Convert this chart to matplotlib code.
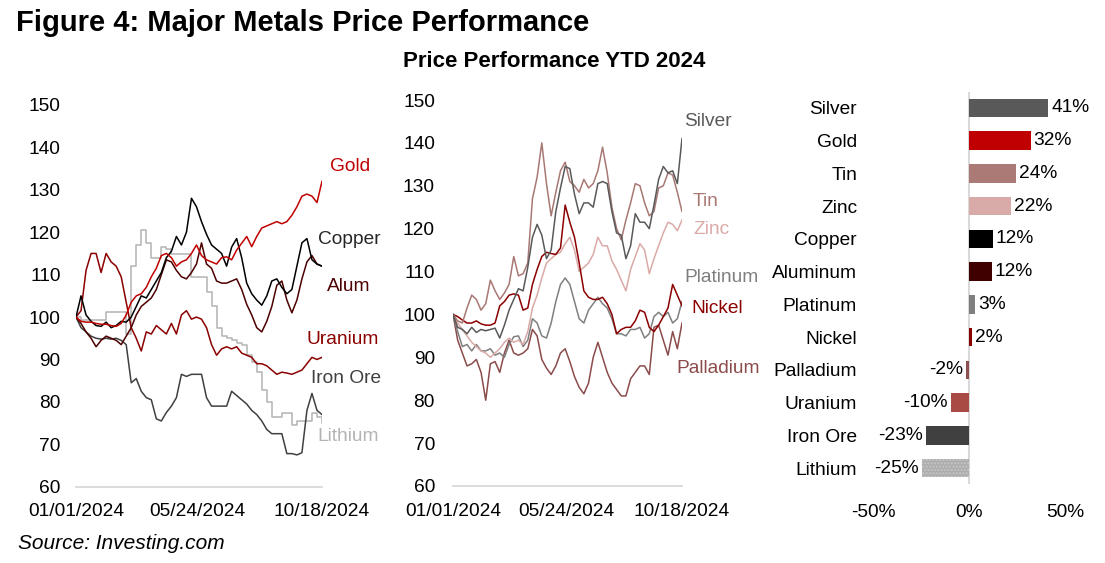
import matplotlib.pyplot as plt
import matplotlib.dates as mdates
import matplotlib.ticker as mticker
import pandas as pd

plt.rc('font', family='Liberation Sans')
plt.rcParams['axes.unicode_minus'] = False

# price index, 01/01/2024 = 100 (50 points Jan 1 -> Oct 18)
dates = pd.date_range('2024-01-01', '2024-10-18', periods=50)

gold = [100, 99.0, 98.8, 98.8, 98.5, 98.3, 98.3, 98.0, 97.8, 98.5,
        100.5, 103.5, 105.0, 105.5, 107.0, 109.5, 111.5, 114.5, 115.0, 114.0,
        112.0, 113.0, 113.5, 115.0, 117.0, 114.5, 113.5, 113.0, 112.5, 114.0,
        114.2, 113.5, 115.8, 117.4, 119.0, 116.6, 119.0, 121.0, 121.5, 122.0,
        122.5, 122.0, 122.5, 124.0, 126.0, 128.5, 129.0, 128.5, 127.0, 132.0]
copper = [100, 105.0, 100.5, 99.0, 98.0, 97.8, 98.8, 97.5, 98.0, 99.0,
          98.8, 100.0, 102.5, 105.0, 104.5, 106.5, 108.5, 110.5, 114.0, 115.5,
          119.0, 117.0, 120.0, 128.0, 126.0, 122.5, 119.5, 117.0, 116.0, 115.0,
          112.0, 116.5, 118.5, 114.0, 108.0, 105.5, 104.0, 102.8, 105.0, 108.5,
          109.0, 107.0, 105.5, 106.5, 112.0, 117.5, 118.5, 113.5, 112.5, 112.0]
alum = [100, 98.5, 96.5, 95.0, 93.0, 94.5, 95.5, 95.0, 94.5, 93.5,
        95.5, 97.5, 100.5, 102.5, 103.5, 104.5, 106.5, 110.0, 113.5, 113.0,
        111.0, 109.5, 109.0, 110.5, 112.5, 117.5, 112.5, 111.5, 108.5, 108.0,
        108.0, 108.5, 109.0, 106.5, 103.0, 100.5, 97.5, 96.5, 99.0, 102.5,
        107.5, 108.5, 104.0, 101.0, 104.0, 109.0, 113.0, 114.5, 112.5, 112.0]
uranium = [100, 101.5, 111.0, 115.0, 115.0, 110.5, 115.0, 113.0, 112.0, 109.5,
           103.5, 97.5, 95.0, 92.0, 96.5, 96.0, 98.0, 97.0, 96.0, 98.5,
           96.0, 100.5, 101.5, 99.5, 100.0, 99.5, 97.5, 93.5, 91.0, 92.5,
           93.0, 92.5, 93.0, 91.5, 91.0, 90.5, 89.0, 89.0, 88.5, 87.5,
           86.5, 87.0, 86.8, 86.5, 87.0, 87.5, 89.0, 90.5, 90.0, 90.5]
iron_ore = [100, 97.5, 96.5, 95.5, 95.0, 94.8, 95.0, 94.8, 95.0, 94.5,
            93.5, 84.5, 85.5, 82.5, 81.0, 80.5, 76.0, 75.5, 77.5, 79.0,
            81.0, 86.5, 86.0, 86.5, 86.5, 86.5, 81.0, 79.0, 79.0, 79.0,
            79.0, 82.5, 81.5, 80.5, 79.5, 78.0, 77.0, 75.5, 73.5, 72.5,
            72.5, 72.5, 67.8, 67.8, 67.5, 68.0, 78.0, 82.0, 78.0, 77.0]
lithium = [100, 99.3, 99.3, 99.3, 99.3, 99.3, 101.2, 101.2, 101.2, 101.2,
           96.0, 112.0, 117.0, 120.5, 117.5, 114.0, 114.0, 116.5, 116.0, 114.8,
           114.8, 114.8, 114.8, 109.5, 109.5, 109.5, 106.0, 102.5, 97.5, 95.5,
           95.0, 94.5, 93.8, 93.5, 91.0, 89.5, 87.0, 82.8, 80.0, 76.5,
           76.5, 77.3, 77.3, 74.5, 75.5, 75.5, 75.5, 77.3, 76.5, 75.0]

silver = [100, 97.0, 96.5, 95.5, 97.0, 95.8, 96.5, 96.2, 96.5, 96.8,
          94.5, 97.5, 101.0, 103.5, 106.0, 105.5, 111.0, 118.0, 121.0, 118.5,
          113.0, 115.0, 124.0, 129.5, 134.5, 134.0, 128.0, 123.5, 126.0, 126.0,
          125.0, 130.5, 131.0, 130.5, 124.0, 119.0, 118.5, 113.0, 116.0, 123.5,
          121.5, 121.5, 120.0, 125.5, 131.5, 134.5, 133.0, 133.5, 130.5, 141.0]
tin = [100, 98.5, 98.0, 101.5, 104.5, 103.5, 101.0, 102.5, 108.0, 105.5,
       103.5, 105.0, 107.0, 113.5, 109.0, 109.5, 112.0, 127.0, 132.0, 140.0,
       130.5, 123.0, 128.5, 133.5, 135.5, 131.0, 130.0, 128.5, 131.5, 129.5,
       130.5, 133.5, 139.0, 133.0, 125.0, 120.0, 117.4, 122.0, 126.0, 130.5,
       130.0, 126.0, 123.0, 124.0, 129.5, 130.0, 133.0, 132.5, 128.5, 124.0]
zinc = [100, 98.0, 96.5, 95.0, 93.5, 92.5, 91.5, 91.0, 90.0, 91.0,
        92.0, 93.5, 94.5, 93.5, 94.0, 93.0, 96.0, 101.5, 104.5, 108.5,
        112.0, 113.0, 114.0, 114.5, 116.5, 118.0, 115.0, 110.0, 111.0, 112.0,
        114.0, 118.0, 116.0, 116.0, 112.5, 110.5, 108.0, 105.5, 110.5, 113.5,
        116.5, 115.0, 109.5, 113.0, 116.0, 119.0, 121.5, 121.0, 119.5, 122.0]
platinum = [100, 96.0, 92.5, 93.0, 91.5, 93.0, 91.5, 91.5, 92.0, 90.5,
            91.0, 90.0, 93.0, 94.8, 95.0, 92.5, 94.0, 99.0, 98.0, 95.0,
            94.5, 98.0, 103.0, 107.0, 108.5, 107.0, 103.0, 99.0, 98.0, 101.0,
            102.5, 104.0, 102.5, 101.5, 99.0, 95.5, 95.5, 95.0, 96.5, 96.5,
            97.0, 94.5, 95.5, 99.5, 100.5, 99.5, 100.5, 98.0, 99.0, 103.0]
nickel = [100, 99.5, 98.7, 98.0, 98.0, 98.5, 97.8, 97.5, 97.5, 98.0,
          102.0, 103.0, 104.5, 104.8, 104.5, 101.0, 101.5, 107.0, 110.5, 113.5,
          114.5, 114.2, 114.0, 115.5, 125.5, 121.5, 118.0, 112.0, 105.5, 104.0,
          103.5, 103.5, 104.0, 102.5, 100.0, 95.5, 96.5, 97.0, 97.0, 98.5,
          101.0, 100.5, 97.0, 96.0, 97.5, 99.5, 101.5, 107.0, 104.5, 102.0]
palladium = [100, 94.0, 91.0, 88.0, 88.5, 89.5, 86.5, 80.0, 88.5, 89.0,
             86.5, 91.0, 94.0, 91.0, 90.5, 91.0, 92.0, 96.5, 95.0, 89.5,
             87.5, 86.0, 88.0, 91.0, 92.0, 89.0, 85.5, 83.0, 81.5, 84.0,
             90.0, 93.5, 90.0, 86.5, 84.0, 82.5, 81.0, 81.0, 85.0, 86.5,
             88.0, 88.0, 86.0, 97.0, 97.5, 94.0, 90.5, 96.0, 92.0, 98.0]

# YTD change, %
bar_names = ['Silver', 'Gold', 'Tin', 'Zinc', 'Copper', 'Aluminum', 'Platinum',
             'Nickel', 'Palladium', 'Uranium', 'Iron Ore', 'Lithium']
bar_values = [41.2, 32.0, 24.2, 21.8, 12.3, 11.7, 3.1, 1.7, -1.6, -9.6, -22.6, -24.6]
bar_colors = ['#595959', '#C00000', '#AC7A76', '#D9ABA8', '#000000', '#3F0000',
              '#7F7F7F', '#8B0000', '#8E4F4F', '#AA4A44', '#404040', '#ADADAD']

FS = 13.8
W, H = 1105, 563


def day(n):
    return pd.Timestamp('2024-01-01') + pd.Timedelta(days=n)


def style_line_ax(ax, ypad):
    ax.set_xlim(dates[0], dates[-1])
    ax.set_ylim(60, 150)
    ax.set_yticks(range(60, 151, 10))
    ax.set_xticks(pd.to_datetime(['2024-01-01', '2024-05-24', '2024-10-18']))
    ax.xaxis.set_major_formatter(mdates.DateFormatter('%m/%d/%Y'))
    for s in ['top', 'right', 'left']:
        ax.spines[s].set_visible(False)
    ax.spines['bottom'].set_color('#D9D9D9')
    ax.spines['bottom'].set_linewidth(1.3)
    ax.tick_params(axis='both', length=0, labelsize=FS)
    ax.tick_params(axis='x', pad=12)
    ax.tick_params(axis='y', pad=ypad)


fig = plt.figure(figsize=(W / 100, H / 100), dpi=100)

# left panel
ax1 = fig.add_axes([76 / W, 1 - 486.7 / H, 246 / W, (486.7 - 105) / H])
left_series = [(lithium, '#B3B3B3', 'Lithium', 285, 71.9),
               (iron_ore, '#404040', 'Iron Ore', 278, 85.4),
               (uranium, '#8B0000', 'Uranium', 273, 94.6),
               (alum, '#4C0000', 'Alum', 297, 107.1),
               (copper, '#000000', 'Copper', 286, 118.2),
               (gold, '#C00000', 'Gold', 300, 135.4)]
for vals, col, name, lx, ly in left_series:
    ds = 'steps-post' if name == 'Lithium' else 'default'
    ax1.plot(dates, vals, color=col, lw=1.1, drawstyle=ds)
    tcol = '#262626' if name == 'Copper' else col
    ax1.text(day(lx), ly, name, color=tcol, fontsize=FS, ha='left', va='center', clip_on=False)
style_line_ax(ax1, 11)

# middle panel
ax2 = fig.add_axes([453 / W, 1 - 486 / H, 229 / W, 386 / H])
mid_series = [(palladium, '#8C4B4B', 'Palladium', 284, 87.5),
              (platinum, '#7F7F7F', 'Platinum', 294, 108.5),
              (zinc, '#DAAAA8', 'Zinc', 305, 119.9),
              (nickel, '#8B0000', 'Nickel', 303, 101.3),
              (tin, '#A87874', 'Tin', 305, 126.3),
              (silver, '#595959', 'Silver', 294, 145.0)]
for vals, col, name, lx, ly in mid_series:
    ax2.plot(dates, vals, color=col, lw=1.1)
    ax2.text(day(lx), ly, name, color=col, fontsize=FS, ha='left', va='center', clip_on=False)
style_line_ax(ax2, 13)

# right panel: bars
ax3 = fig.add_axes([873 / W, 1 - 484.4 / H, 202 / W, 392.8 / H])
ypos = list(range(len(bar_names)))
bars = ax3.barh(ypos, bar_values, height=0.57, color=bar_colors)
bars[-1].set_hatch('.....')
bars[-1].set_edgecolor('#C8C8C8')
bars[-1].set_linewidth(0)
ax3.axvline(0, color='#D9D9D9', lw=1.5, zorder=0)
for i, v in enumerate(bar_values):
    if v >= 0:
        ax3.text(v + 1.5, i, f'{v:.0f}%', ha='left', va='center', fontsize=FS)
    else:
        ax3.text(v - 1.5, i, f'{v:.0f}%', ha='right', va='center', fontsize=FS)
ax3.set_xlim(-50, 55)
ax3.set_ylim(len(bar_names) - 0.5, -0.5)
ax3.set_xticks([-50, 0, 50])
ax3.xaxis.set_major_formatter(mticker.FuncFormatter(lambda x, p: f'{x:.0f}%'))
ax3.set_yticks(ypos)
ax3.set_yticklabels(bar_names)
for s in ax3.spines.values():
    s.set_visible(False)
ax3.tick_params(axis='both', length=0, labelsize=FS)
ax3.tick_params(axis='x', pad=14)
ax3.tick_params(axis='y', pad=11.5)

fig.text(16 / W, 1 - 31 / H, 'Figure 4: Major Metals Price Performance',
         fontsize=21, fontweight='bold', ha='left', va='baseline')
fig.text(554 / W, 1 - 67 / H, 'Price Performance YTD 2024',
         fontsize=16, fontweight='bold', ha='center', va='baseline')
fig.text(18 / W, 1 - 549 / H, 'Source: Investing.com',
         fontsize=15, fontstyle='italic', ha='left', va='baseline')

fig.savefig('out.png', dpi=100)
